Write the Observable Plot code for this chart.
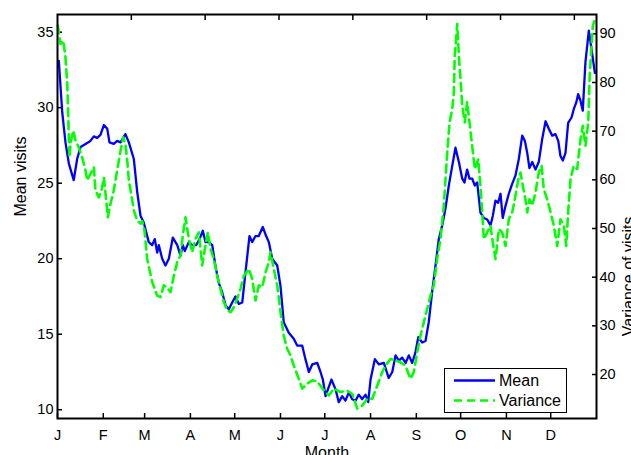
<!DOCTYPE html>
<html><head><meta charset="utf-8">
<script src="https://cdn.jsdelivr.net/npm/d3@7"></script>
<script src="https://cdn.jsdelivr.net/npm/@observablehq/plot@0.6"></script>
<style>
body{margin:0;background:#fff;}
#wrap{position:relative;width:631px;height:455px;overflow:hidden;font-family:"Liberation Sans",Arial,sans-serif;}
#wrap svg{position:absolute;left:0;top:0;}
#legend{position:absolute;left:444px;top:368px;width:123px;height:45px;border:1px solid #000;background:#fff;box-sizing:border-box;font-size:16px;color:#000;}
#legend span{position:absolute;line-height:18px;white-space:nowrap;}
#legend svg{position:absolute;left:0;top:0;}
</style></head><body><div id="wrap"></div>
<script>
// Month ticks (day of year) and labels
const monthStarts = [0, 31, 59, 90, 120, 151, 181, 212, 243, 273, 304, 334];
const monthLabels = ["J", "F", "M", "A", "M", "J", "J", "A", "S", "O", "N", "D"];
const topTicks = [50, 100, 150, 200, 250, 300, 350];
const leftTicks = [10, 15, 20, 25, 30, 35];
const rightTicks = [20, 30, 40, 50, 60, 70, 80, 90];

// Mean visits (left axis)
const meanDay = [0.9,3.2,5.4,7.7,11.0,13.3,15.6,19.0,22.3,24.6,26.9,29.1,31.4,33.7,35.2,38.1,40.4,42.7,46.0,48.3,51.7,54.0,56.2,58.4,61.8,64.1,65.9,67.5,68.6,70.9,73.1,75.4,78.1,81.1,83.3,84.9,86.2,88.9,91.2,93.9,96.2,98.4,100.2,102.5,104.8,107.0,109.2,111.5,113.8,116.0,118.3,120.5,122.8,125.1,127.3,130.0,131.8,134.1,136.3,139.0,141.3,143.1,145.4,148.8,151.0,153.2,156.6,160.0,162.3,165.7,167.9,170.2,172.5,175.9,178.1,179.7,181.5,185.5,188.3,190.5,192.8,195.0,197.3,199.6,201.8,204.0,206.3,208.6,210.4,212.0,214.9,217.6,221.0,224.3,226.7,228.9,231.1,233.4,235.7,237.9,240.2,242.4,244.3,247.0,249.2,251.4,253.7,256.0,258.2,260.5,262.7,265.0,267.3,269.5,271.8,274.1,275.6,277.4,279.0,280.8,282.6,284.2,286.4,288.7,291.0,293.2,294.8,296.6,298.4,300.0,301.5,303.4,305.6,307.9,310.1,312.4,314.7,316.5,318.1,319.6,321.5,323.7,325.9,328.2,330.5,332.7,335.0,337.2,339.1,340.6,342.2,344.0,345.8,348.1,349.6,351.3,352.6,354.2,355.7,357.5,359.8,361.6,363.9];
const meanValue = [33.1,29.7,27.7,26.3,25.2,26.6,27.4,27.6,27.8,28.1,28.0,28.2,28.85,28.6,27.7,27.6,27.8,27.7,28.25,27.7,26.6,24.4,22.85,22.4,21.1,20.9,21.3,20.4,20.9,20.0,19.55,20.0,21.4,20.9,20.2,20.9,20.5,21.1,20.9,20.9,21.3,21.85,21.1,21.1,20.9,19.5,18.4,17.8,16.9,16.65,17.1,17.5,17.0,17.1,19.1,21.5,21.1,21.5,21.5,22.1,21.5,21.1,20.0,19.55,18.2,15.8,15.1,14.7,14.25,14.25,13.35,12.5,13.0,13.1,12.5,12.0,10.9,12.0,11.35,10.5,10.9,10.6,11.15,10.7,10.6,11.0,10.7,11.0,10.5,12.0,13.35,13.0,13.1,12.1,12.5,13.6,13.25,13.45,13.1,13.6,13.1,13.8,14.8,14.45,14.55,15.8,17.8,19.55,21.3,22.2,23.3,24.85,26.15,27.35,26.4,25.3,25.05,25.9,25.3,25.3,24.85,25.05,23.05,22.7,22.6,22.2,22.85,23.85,23.7,24.3,22.7,23.5,24.3,24.95,25.5,26.6,28.15,27.8,27.0,26.0,26.4,25.9,26.4,27.9,29.1,28.6,28.15,28.25,27.8,26.8,26.5,27.0,29.0,29.35,29.9,30.35,30.9,30.45,29.8,33.0,35.1,33.9,32.3];

// Variance of visits (right axis)
const varDay = [0.2,2.0,3.9,5.4,6.6,7.2,7.7,8.1,8.8,10.6,12.2,14.4,16.7,19.0,20.1,22.3,24.6,25.7,28.0,29.8,31.4,33.0,34.1,35.9,38.1,40.4,42.7,44.5,46.0,47.2,48.3,49.9,51.7,54.0,56.2,57.4,58.9,60.7,64.1,67.5,69.7,72.0,74.3,76.5,78.8,81.1,83.3,85.1,86.7,88.9,91.2,93.5,95.7,98.0,100.2,101.8,103.6,105.8,108.1,110.4,112.6,114.9,117.2,119.4,121.7,123.9,126.2,129.5,131.8,134.1,136.3,138.6,140.9,143.1,144.2,146.5,148.8,151.0,153.2,155.5,157.8,160.0,163.4,165.7,169.1,172.5,175.9,179.7,183.7,187.1,191.6,196.2,199.6,203.0,206.3,209.7,213.1,216.5,219.9,222.1,225.5,228.9,232.3,235.7,239.0,241.3,243.6,245.8,249.2,252.6,254.8,257.1,259.4,261.6,263.9,265.5,267.3,268.4,269.0,270.7,271.8,272.9,274.1,275.8,277.4,279.0,280.8,282.6,284.9,286.4,287.6,288.7,291.0,293.2,294.8,296.6,298.9,301.1,303.4,305.6,307.9,309.7,312.0,313.5,315.1,316.9,318.1,319.6,321.5,323.7,325.9,327.8,329.3,331.6,333.9,336.1,338.4,340.6,342.9,344.5,345.8,347.4,349.6,351.9,354.2,355.7,357.5,359.4,360.3,361.6,362.5,363.9];
const varValue = [91.7,87.9,88.6,85.2,79.7,74.2,68.1,64.6,67.4,70.1,68.1,66.7,64.6,61.9,59.9,61.2,62.6,57.8,56.4,57.8,60.5,55.75,52.3,55.1,57.8,61.9,66.0,68.75,67.4,64.0,59.9,57.1,53.7,51.6,51.0,51.5,49.6,43.8,39.0,36.2,35.9,38.3,37.9,36.9,40.3,43.1,44.5,49.2,52.3,47.9,45.1,47.9,49.2,42.4,46.5,49.2,45.8,43.8,40.3,37.6,34.9,33.2,32.8,33.8,35.6,37.6,40.3,41.7,39.7,35.2,38.3,37.9,41.0,43.1,45.1,41.7,38.3,32.8,28.0,25.3,23.9,21.85,19.1,17.1,18.1,18.8,18.6,17.0,15.7,17.1,16.4,16.7,16.0,13.0,13.6,15.0,15.0,17.7,20.5,21.8,23.2,22.9,22.5,21.8,19.1,20.5,24.6,28.0,32.1,36.2,38.3,43.8,47.9,54.7,65.6,71.8,74.5,77.9,85.5,92.0,85.5,80.7,75.2,71.8,76.0,71.8,67.0,62.2,64.2,58.8,53.3,47.8,49.2,50.6,47.1,43.7,49.9,49.2,46.4,51.9,53.3,56.0,60.1,61.5,58.8,56.0,53.3,56.0,54.7,57.4,61.5,62.9,58.1,56.0,53.3,50.6,46.4,51.9,50.6,46.4,53.3,60.1,62.9,62.2,68.35,71.1,67.0,71.8,80.7,87.5,91.6,93.0];

const meanData = meanDay.map((d, i) => ({day: d, value: meanValue[i]}));
const varData = varDay.map((d, i) => ({day: d, value: varValue[i]}));

const W = 631, H = 455;
const common = {
  width: W, height: H,
  marginLeft: 57, marginRight: 35, marginTop: 14, marginBottom: 37,
  x: {domain: [0, 365]},
  style: {fontFamily: '"Liberation Sans", Arial, sans-serif', fontSize: "14.5px", color: "#000", background: "transparent", overflow: "visible"}
};

const p1 = Plot.plot({
  ...common,
  y: {domain: [9.42, 36.17]},
  marks: [
    Plot.axisX(monthStarts, {anchor: "bottom", tickSize: -5, tickPadding: 16, strokeWidth: 1.5, tickFormat: (d, i) => monthLabels[i], label: null}),
    Plot.axisY(leftTicks, {anchor: "left", tickSize: -5, tickPadding: 9, strokeWidth: 1.5, label: null}),
    Plot.lineY(meanData, {x: "day", y: "value", stroke: "#0000ff", strokeWidth: 2.3}),
    Plot.text(["Mean visits"], {frameAnchor: "left", rotate: -90, lineAnchor: "bottom", dx: -32, fontSize: 16}),
    Plot.text(["Month"], {frameAnchor: "bottom", lineAnchor: "top", dy: 28, fontSize: 16})
  ]
});

const p2 = Plot.plot({
  ...common,
  y: {domain: [10.96, 93.97]},
  marks: [
    Plot.axisX(topTicks, {anchor: "top", tickSize: -5, strokeWidth: 1.5, tickFormat: () => "", label: null}),
    Plot.axisY(rightTicks, {anchor: "right", tickSize: -5, tickPadding: 8, strokeWidth: 1.5, label: null}),
    Plot.lineY(varData, {x: "day", y: "value", stroke: "#00ff00", strokeWidth: 2.6, strokeDasharray: "8,5"}),
    Plot.text(["Variance of visits"], {frameAnchor: "right", rotate: -90, lineAnchor: "bottom", dx: 37.5, fontSize: 16}),
    Plot.frame({stroke: "#000", strokeWidth: 2})
  ]
});

const wrap = document.getElementById("wrap");
wrap.appendChild(p1);
wrap.appendChild(p2);

const legend = document.createElement("div");
legend.id = "legend";
legend.innerHTML = `
<svg width="123" height="45">
  <line x1="9" x2="50" y1="11.5" y2="11.5" stroke="#0000ff" stroke-width="2.3"/>
  <line x1="9" x2="50" y1="31.5" y2="31.5" stroke="#00ff00" stroke-width="2.6" stroke-dasharray="8,5"/>
</svg>
<span style="left:54px;top:3px">Mean</span>
<span style="left:54px;top:23px">Variance</span>`;
wrap.appendChild(legend);
</script></body></html>
